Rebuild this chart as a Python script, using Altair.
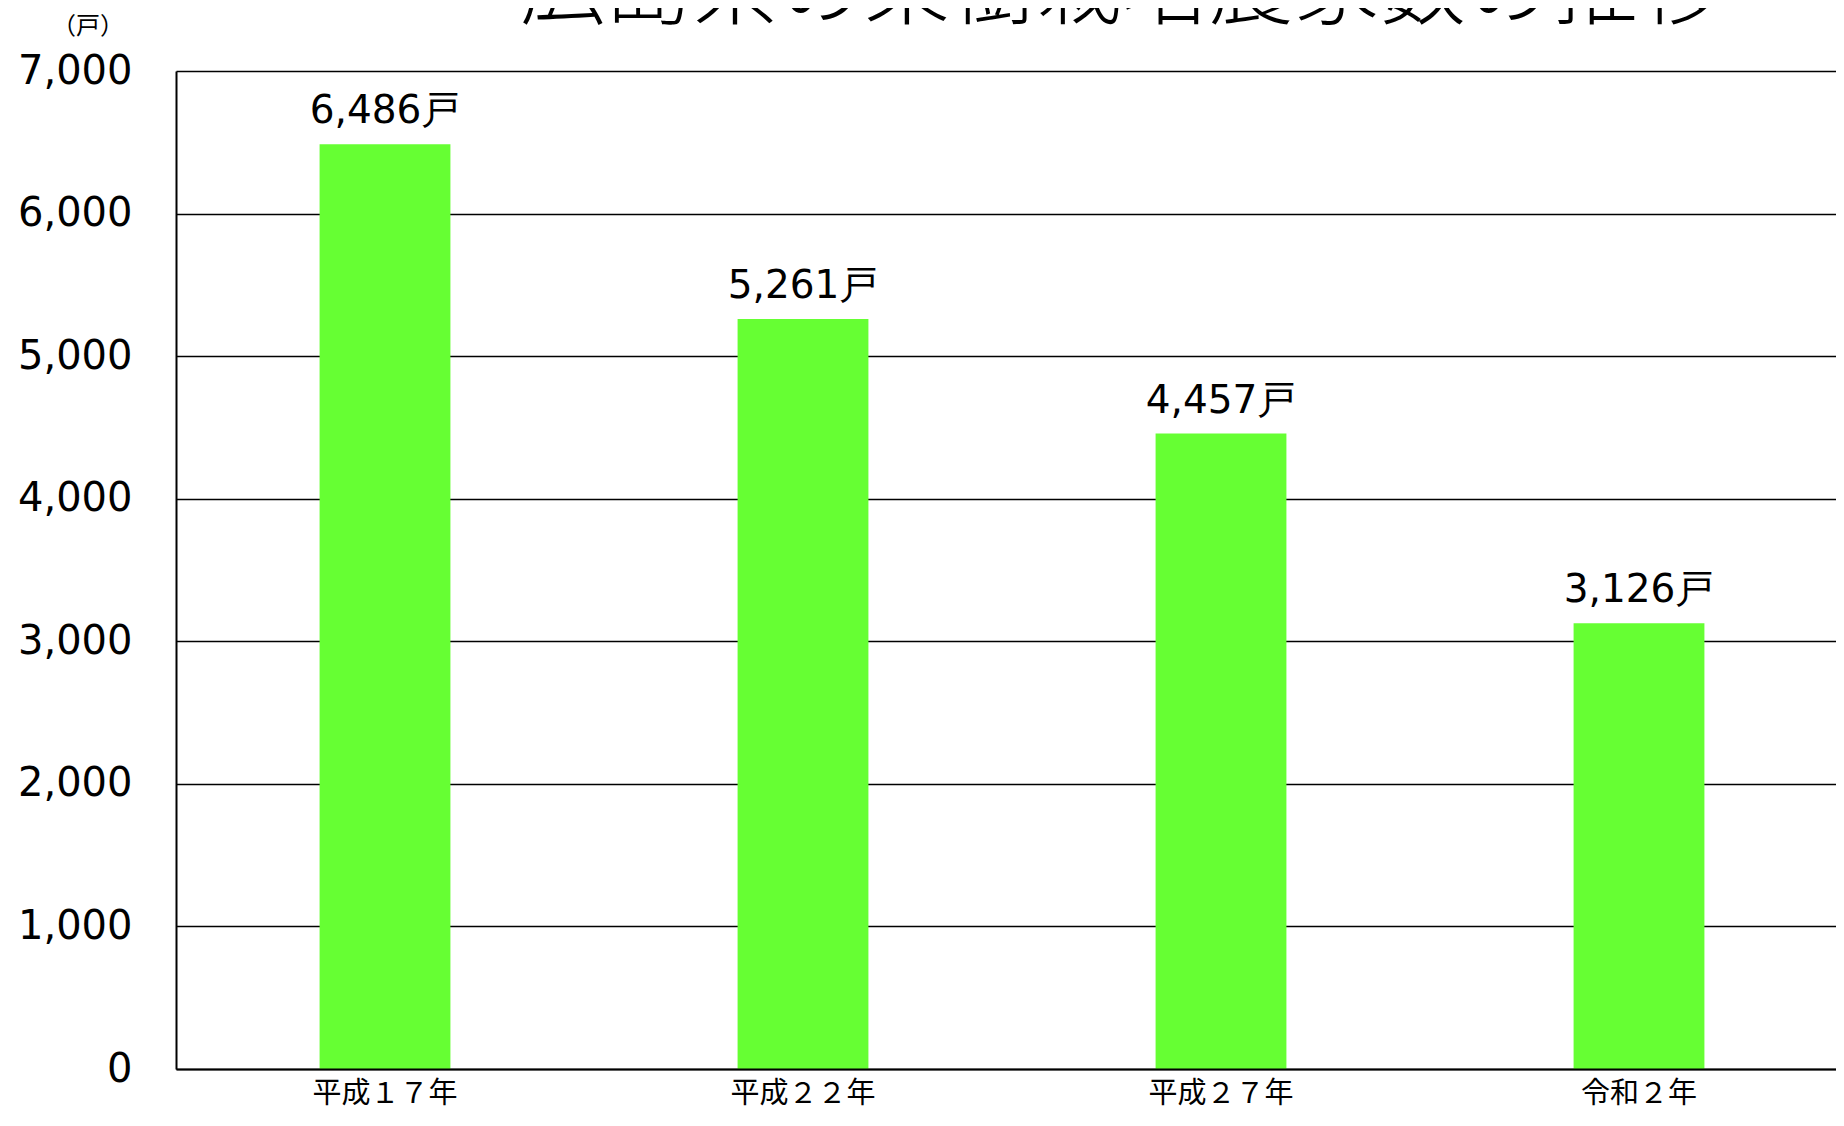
import altair as alt
import pandas as pd

categories = ["平成１７年", "平成２２年", "平成２７年", "令和２年"]
farms = [6486, 5261, 4457, 3126]
y_ticks = [0, 1000, 2000, 3000, 4000, 5000, 6000, 7000]
title_text = "広島県の果樹栽培農家数の推移"
unit_text = "（戸）"

df = pd.DataFrame({"year": categories, "farms": farms})
df["label"] = [f"{v:,}戸" for v in farms]

x = alt.X(
    "year:N",
    sort=categories,
    scale=alt.Scale(paddingInner=0.687, paddingOuter=0.3435, range=[0, 1672]),
    axis=alt.Axis(
        title=None, labelAngle=0, labelFont="Noto Sans CJK JP", labelFontSize=29,
        labelColor="black", ticks=False, labelPadding=24, labelBaseline="middle",
        domainColor="black", domainWidth=2, grid=False, zindex=1,
    ),
)
y = alt.Y(
    "farms:Q",
    scale=alt.Scale(domain=[0, 7000], nice=False),
    axis=alt.Axis(
        title=None, values=y_ticks, format=",d", labelFont="DejaVu Sans",
        labelFontSize=40, labelColor="black", ticks=False, labelPadding=44,
        domainColor="black", domainWidth=2, gridColor="black", gridWidth=1.5,
    ),
)

base = alt.Chart(df)
bars = base.mark_bar(color="#66FF33").encode(x=x, y=y)
labels = base.mark_text(
    dy=-33, font="DejaVu Sans", fontSize=39, baseline="middle", color="black"
).encode(x=alt.X("year:N", sort=categories), y="farms:Q", text="label:N")

title = alt.Chart(pd.DataFrame({"t": [title_text]})).mark_text(
    font="Noto Sans CJK JP", fontSize=86, fontWeight=300, baseline="alphabetic",
    align="center", color="black"
).encode(text="t:N", x=alt.value(946), y=alt.value(-53))

unit = alt.Chart(pd.DataFrame({"u": [unit_text]})).mark_text(
    font="Noto Sans CJK JP", fontSize=24, baseline="middle", align="center", color="black"
).encode(text="u:N", x=alt.value(-88), y=alt.value(-44))

chart = alt.layer(bars, labels, title, unit).properties(
    width=1660, height=998,
    autosize=alt.AutoSizeParams(type="none"),
    padding={"left": 168, "top": 63, "right": 0, "bottom": 41},
    background="white",
).configure_view(stroke=None)

chart.save("out.html", embed_options={"renderer": "svg", "actions": False})
